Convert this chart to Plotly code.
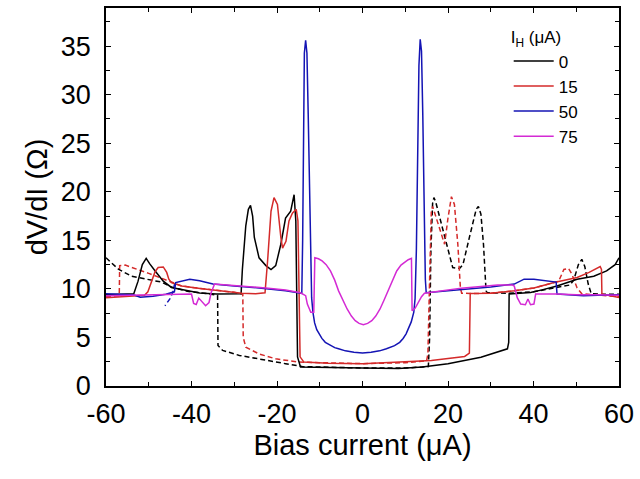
import plotly.graph_objects as go

# ---------------- data ----------------
ih_labels = ["0", "15", "50", "75"]

# I_H = 0, forward sweep (solid)
b0_x = [-60, -56, -53.5, -52.5, -51.5, -50.6, -49.8, -48.5, -46.6, -44.7, -41.2, -38.1, -34.2, -28.4,
        -28.1, -27.3, -26.7, -26.2, -25.7, -25.3, -24.2, -22.6, -21.4, -20.3, -19.1, -18.0, -16.8, -16.0,
        -15.6, -15.4, -15.2, -14.5, -10, 0, 8.4, 14, 20, 27.7, 33.9, 34.2, 34.3, 39.3, 42, 45.5, 50.2,
        54.1, 57.1, 59.1, 60]
b0_y = [9.4, 9.45, 9.5, 10.8, 12.5, 13.15, 12.6, 11.85, 10.8, 10.15, 9.8, 9.57, 9.47, 9.5,
        12.0, 16.5, 18.2, 18.6, 17.5, 15.3, 13.2, 12.4, 12.0, 12.4, 14.6, 17.3, 18.0, 19.7,
        17.0, 10.0, 3.0, 1.95, 1.9, 1.85, 1.8, 1.95, 2.3, 2.97, 3.83, 4.5, 9.47, 9.63, 9.9, 10.3, 11.0,
        11.3, 11.85, 12.5, 13.2]

# I_H = 0, reverse sweep (dashed)
b0d_x = [-60, -57, -54, -50, -47, -44.7, -41, -36, -33.9, -33.8, -32.7, -28.8, -22.6, -18, -14.1, 0, 10,
         15.4, 15.7, 16.0, 16.4, 16.7, 17.1, 17.7, 18.8, 20.0, 21.1, 22.7, 23.5, 25.0, 26.6, 27.1, 27.7,
         28.3, 28.9, 29.2, 34, 40, 45.5, 48.5, 49.4, 50.5, 51.3, 52.0, 52.8, 53.5, 56, 60]
b0d_y = [13.2, 12.0, 11.3, 10.95, 10.7, 10.2, 9.75, 9.5, 9.35, 4.17, 3.66, 3.15, 2.63, 2.3, 2.0, 1.85, 1.85,
         2.0, 5.0, 14.0, 18.8, 19.4, 19.0, 18.0, 16.3, 14.2, 12.2, 12.1, 12.5, 15.3, 18.2, 18.5, 17.7,
         14.6, 9.8, 9.6, 9.55, 9.7, 10.2, 10.4, 10.9, 12.5, 13.05, 12.3, 10.5, 9.5, 9.45, 9.45]

# I_H = 15, forward (solid)
r15_x = [-60, -55, -51, -50.2, -49.3, -48.5, -47.8, -46.6, -45.8, -45.3, -44.7, -42.3, -38, -34, -30,
         -28.2, -25, -22.8, -22.2, -21.4, -20.7, -19.9, -19.1, -18.7, -17.9, -17.2, -16.4, -15.5, -15.1,
         -14.9, -14.6, -13.7, -8, 0, 8.4, 16.1, 23.9, 25.0, 25.2, 30, 35.5, 40.1, 44.8, 50.2, 53, 55.6,
         55.9, 56.0, 58, 60]
r15_y = [9.1, 9.2, 9.35, 9.7, 10.8, 11.8, 12.2, 12.26, 11.7, 11.0, 10.65, 10.3, 10.05, 9.85, 9.65,
         9.55, 9.5, 9.6, 12.9, 18.0, 19.4, 18.7, 15.3, 14.2, 14.9, 17.0, 17.8, 18.2, 17.0,
         10.0, 3.0, 2.46, 2.35, 2.3, 2.46, 2.63, 3.04, 3.38, 9.53, 9.55, 9.8, 10.1, 10.65, 11.17, 11.7, 12.3,
         12.0, 9.47, 9.3, 9.1]

# I_H = 15, reverse (dashed)
r15d_x = [-60, -57.5, -56.9, -56.8, -55.5, -50, -44.7, -42.3, -38, -34, -30, -28.0, -27.9, -27.3, -24.2,
          -20.3, -14.9, 0, 10, 15.0, 15.3, 15.7, 16.1, 16.4, 16.9, 18.4, 19.2, 20.0, 20.8, 21.5, 22.3,
          22.9, 23.2, 25.2, 30, 35.5, 40.1, 44.8, 45.9, 47.1, 48.2, 49.0, 50.2, 51.3, 55, 60]
r15d_y = [9.2, 9.25, 9.3, 12.4, 12.45, 11.6, 10.65, 10.3, 10.05, 9.85, 9.65, 9.45, 5.0, 4.0, 3.3,
          2.8, 2.46, 2.3, 2.4, 2.6, 3.3, 11.0, 18.0, 18.5, 17.8, 15.6, 14.6, 17.3, 19.5, 18.7, 14.6,
          10.1, 9.55, 9.53, 9.55, 9.8, 10.1, 10.65, 10.8, 12.0, 12.1, 11.5, 10.1, 9.5, 9.4, 9.2]

# I_H = 50 (solid)
b50_x = [-60, -56, -53.6, -52, -49, -46, -44.7, -44.0, -43.7, -40.4, -38.1, -35, -30, -24.2, -18, -14.2,
         -14.0, -13.8, -13.6, -13.3, -13.0, -12.7, -12.3, -12.0, -11.9, -11.6, -11.2, -10.7, -10.2, -9.5,
         -8.7, -7.5, -6.5, -5.6, -4, -2, 0, 2, 4, 5.6, 6.5, 7.5, 8.7, 9.5, 10.2, 10.8, 11.4, 12.0, 12.3,
         12.6, 12.9, 13.2, 13.5, 13.8, 14.1, 14.4, 14.7, 14.9, 20, 25, 30, 35.5,
         37.8, 40.1, 44.8, 45.3, 45.5, 48, 51.7, 55, 60]
b50_y = [9.5, 9.45, 9.4, 9.15, 9.25, 9.45, 9.6, 9.7, 10.65, 11.0, 10.85, 10.5, 10.3, 10.1, 9.8, 9.55,
         15.0, 28.0, 34.3, 35.6, 34.3, 28.0, 18.0, 10.5, 9.1, 7.6, 6.5, 5.8, 5.37, 4.9,
         4.5, 4.15, 3.95, 3.83, 3.62, 3.48, 3.4, 3.48, 3.62, 3.83, 3.95, 4.15, 4.5, 4.9, 5.37, 5.9, 6.6, 7.6, 9.0,
         14.0, 24.0, 33.0, 35.7, 34.5, 28.0, 18.0, 11.0, 9.6, 9.8, 9.95, 10.2, 10.5,
         11.0, 11.0, 10.76, 10.7, 9.47, 9.4, 9.3, 9.35, 9.4]

# I_H = 50, short reverse segment (dashed)
b50d_x = [-43.9, -44.4, -45.1, -46.2]
b50d_y = [10.6, 9.6, 8.95, 8.27]

# I_H = 75 (solid)
m75_x = [-60, -55, -50, -45, -42.7, -40.0, -39.5, -38.9, -38.3, -37.7, -36.7, -35.9, -35.4, -34.6, -28,
         -22.6, -18, -14.5, -13.3, -12.9, -12.1, -11.4, -11.15, -10.3, -9.45, -8.5, -7.5, -6.5, -5.6, -4.6,
         -3.6, -2.6, -1.7, -0.8, 0.2, 1.2, 2.17, 3.1, 4.1, 5.0, 6.0, 7.0, 8.0, 9.0, 9.9, 10.7, 11.45,
         11.6, 12.3, 13.0, 13.8, 14.5, 23.1, 31.6, 35.1, 35.5, 36.2, 37.0, 38.1,
         38.7, 39.3, 40.1, 40.5, 45.5, 50, 55, 60]
m75_y = [9.3, 9.35, 9.4, 9.45, 9.5, 9.47, 8.5, 8.4, 9.06, 8.78, 8.27, 8.6, 9.63, 10.5, 10.3,
         10.1, 9.88, 9.6, 9.3, 8.44, 7.6, 7.6, 13.2, 13.1, 12.88, 12.5, 11.85, 10.9, 9.8, 8.8,
         7.93, 7.2, 6.73, 6.45, 6.32, 6.45, 6.73, 7.2, 7.93, 8.8, 9.8, 10.9, 11.85, 12.45, 12.75, 13.0, 13.15,
         7.75, 8.0, 8.6, 9.2, 9.55, 10.08, 10.4, 10.4, 10.3, 9.1, 8.44, 8.37,
         8.96, 8.37, 8.44, 9.47, 9.47, 9.4, 9.4, 9.35]

x_ticks = [-60, -40, -20, 0, 20, 40, 60]
y_ticks = [0, 5, 10, 15, 20, 25, 30, 35]

# ---------------- styles ----------------
BLACK = "#000000"
RED = "#d42a2a"
BLUE = "#1414b4"
MAGENTA = "#d42ad4"
FONT = "Liberation Sans, Arial, sans-serif"
LW = 1.5
DASH = "5px,3px"

fig = go.Figure()
solid = [(b0_x, b0_y, BLACK, ih_labels[0]), (r15_x, r15_y, RED, ih_labels[1]),
         (b50_x, b50_y, BLUE, ih_labels[2]), (m75_x, m75_y, MAGENTA, ih_labels[3])]
dashed = [(b0d_x, b0d_y, BLACK), (r15d_x, r15d_y, RED), (b50d_x, b50d_y, BLUE)]

for xs, ys, c in dashed:
    fig.add_trace(go.Scatter(x=xs, y=ys, mode="lines", showlegend=False,
                             line=dict(color=c, width=LW, dash=DASH)))
for xs, ys, c, name in solid:
    fig.add_trace(go.Scatter(x=xs, y=ys, mode="lines", name=name,
                             line=dict(color=c, width=LW)))

axis_common = dict(showline=True, linecolor="black", linewidth=1.5, mirror="ticks",
                   ticks="inside", ticklen=5, tickwidth=1.2, tickcolor="black",
                   showgrid=False, zeroline=False,
                   tickfont=dict(family=FONT, size=27, color="black"),
                   minor=dict(ticks="inside", ticklen=4, tickwidth=1.2, tickcolor="black"))

fig.update_xaxes(range=[-60, 60], tickvals=x_ticks, ticktext=[str(v) for v in x_ticks],
                 minor_dtick=10, minor_tick0=0,
                 title=dict(text="Bias current (μA)", font=dict(family=FONT, size=29, color="black"),
                            standoff=4),
                 ticklabelstandoff=3, **axis_common)
fig.update_yaxes(range=[0, 38.93], tickvals=y_ticks, ticktext=[str(v) for v in y_ticks],
                 minor_dtick=2.5, minor_tick0=0,
                 title=dict(text="dV/dI (Ω)", font=dict(family=FONT, size=29, color="black"),
                            standoff=5),
                 ticklabelstandoff=8, **axis_common)

fig.update_layout(
    width=640, height=479,
    margin=dict(l=106, r=18, t=6, b=93),
    paper_bgcolor="white", plot_bgcolor="white",
    font=dict(family=FONT, color="black"),
    legend=dict(x=0.785, y=0.965, xanchor="left", yanchor="top",
                bgcolor="rgba(0,0,0,0)", borderwidth=0, itemwidth=40,
                font=dict(family=FONT, size=17, color="black"),
                title=dict(text="I<sub>H</sub> (μA)", font=dict(family=FONT, size=17, color="black")),
                tracegroupgap=0),
)

fig.write_html("out.html")
